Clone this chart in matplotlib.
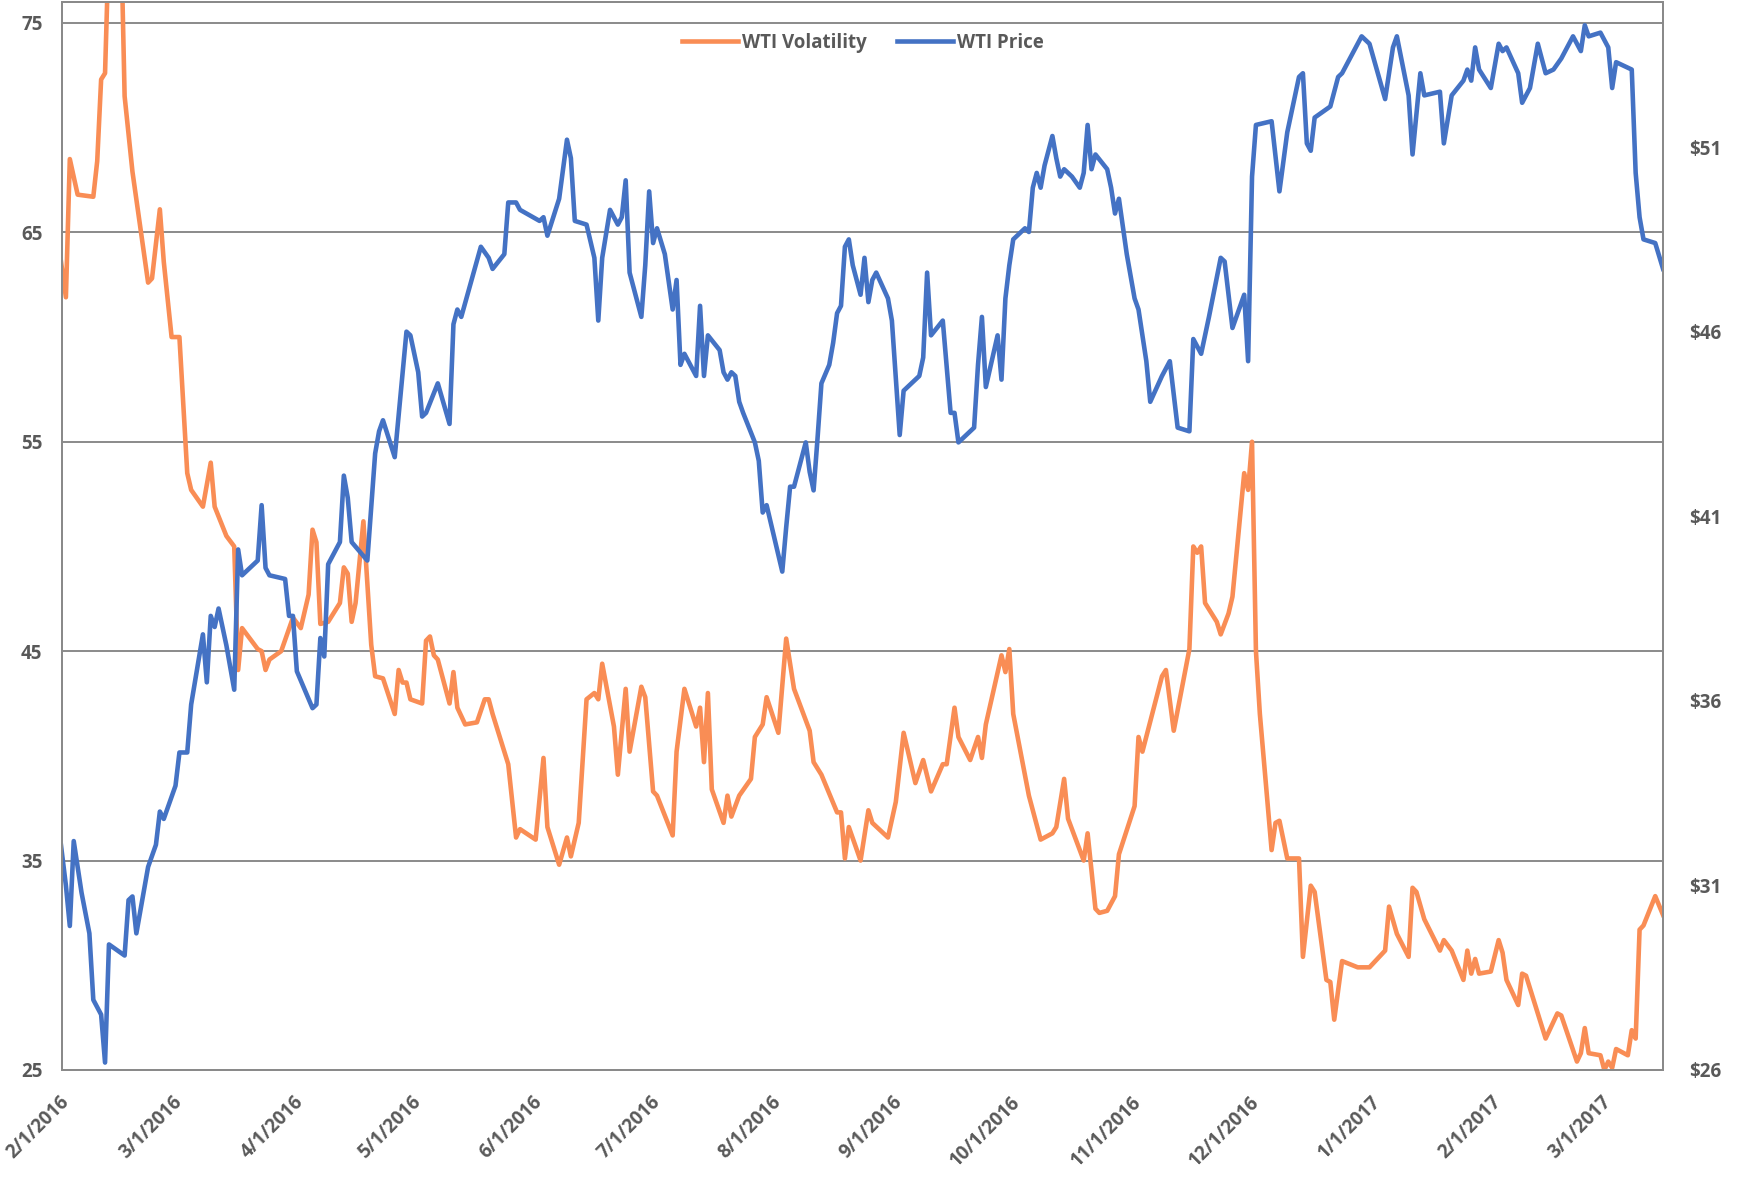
#!/usr/bin/env python3
"""WTI volatility vs WTI price, Feb 2016 - Mar 2017."""

import matplotlib
matplotlib.use('Agg')
import matplotlib.pyplot as plt
import pandas as pd

# WTI volatility (left axis).
vol_dates = [
    '2016-01-29', '2016-02-01', '2016-02-02', '2016-02-04', '2016-02-08', '2016-02-09',
    '2016-02-10', '2016-02-11', '2016-02-12', '2016-02-15', '2016-02-16', '2016-02-18',
    '2016-02-22', '2016-02-23', '2016-02-25', '2016-02-26', '2016-02-28',
    '2016-03-01', '2016-03-03', '2016-03-04', '2016-03-07', '2016-03-09', '2016-03-10',
    '2016-03-13', '2016-03-15', '2016-03-16', '2016-03-17', '2016-03-21', '2016-03-22',
    '2016-03-23', '2016-03-24', '2016-03-27', '2016-03-30',
    '2016-04-01', '2016-04-03', '2016-04-04', '2016-04-05', '2016-04-06', '2016-04-08',
    '2016-04-11', '2016-04-12', '2016-04-13', '2016-04-14', '2016-04-15', '2016-04-17',
    '2016-04-19', '2016-04-20', '2016-04-22', '2016-04-25', '2016-04-26', '2016-04-27',
    '2016-04-28', '2016-04-29',
    '2016-05-02', '2016-05-03', '2016-05-04', '2016-05-05', '2016-05-06', '2016-05-09',
    '2016-05-10', '2016-05-11', '2016-05-12', '2016-05-13', '2016-05-16', '2016-05-18',
    '2016-05-19', '2016-05-20', '2016-05-24', '2016-05-26', '2016-05-27', '2016-05-31',
    '2016-06-02', '2016-06-03', '2016-06-06', '2016-06-08', '2016-06-09', '2016-06-11',
    '2016-06-13', '2016-06-15', '2016-06-16', '2016-06-17', '2016-06-20', '2016-06-21',
    '2016-06-23', '2016-06-24', '2016-06-27', '2016-06-28', '2016-06-30',
    '2016-07-01', '2016-07-05', '2016-07-06', '2016-07-08', '2016-07-11', '2016-07-12',
    '2016-07-13', '2016-07-14', '2016-07-15', '2016-07-18', '2016-07-19', '2016-07-20',
    '2016-07-22', '2016-07-25', '2016-07-26', '2016-07-28', '2016-07-29',
    '2016-08-01', '2016-08-03', '2016-08-05', '2016-08-09', '2016-08-10', '2016-08-12',
    '2016-08-16', '2016-08-17', '2016-08-18', '2016-08-19', '2016-08-22', '2016-08-24',
    '2016-08-25', '2016-08-29', '2016-08-31',
    '2016-09-02', '2016-09-05', '2016-09-07', '2016-09-09', '2016-09-12', '2016-09-13',
    '2016-09-15', '2016-09-16', '2016-09-19', '2016-09-21', '2016-09-22', '2016-09-23',
    '2016-09-27', '2016-09-28', '2016-09-29', '2016-09-30',
    '2016-10-04', '2016-10-07', '2016-10-10', '2016-10-11', '2016-10-13', '2016-10-14',
    '2016-10-18', '2016-10-19', '2016-10-21', '2016-10-22', '2016-10-24', '2016-10-26',
    '2016-10-27', '2016-10-31',
    '2016-11-01', '2016-11-02', '2016-11-07', '2016-11-08', '2016-11-10', '2016-11-14',
    '2016-11-15', '2016-11-16', '2016-11-17', '2016-11-18', '2016-11-21', '2016-11-22',
    '2016-11-24', '2016-11-25', '2016-11-28', '2016-11-29', '2016-11-30',
    '2016-12-01', '2016-12-02', '2016-12-05', '2016-12-06', '2016-12-07', '2016-12-09',
    '2016-12-12', '2016-12-13', '2016-12-15', '2016-12-16', '2016-12-19', '2016-12-20',
    '2016-12-21', '2016-12-23', '2016-12-27', '2016-12-30',
    '2017-01-03', '2017-01-04', '2017-01-06', '2017-01-09', '2017-01-10', '2017-01-11',
    '2017-01-13', '2017-01-17', '2017-01-18', '2017-01-20', '2017-01-23', '2017-01-24',
    '2017-01-25', '2017-01-26', '2017-01-27', '2017-01-30',
    '2017-02-01', '2017-02-02', '2017-02-03', '2017-02-06', '2017-02-07', '2017-02-08',
    '2017-02-13', '2017-02-16', '2017-02-17', '2017-02-21', '2017-02-22', '2017-02-23',
    '2017-02-24', '2017-02-27', '2017-02-28',
    '2017-03-01', '2017-03-02', '2017-03-03', '2017-03-06', '2017-03-07', '2017-03-08',
    '2017-03-09', '2017-03-10', '2017-03-13', '2017-03-15',
]
vol_values = [
    66.0, 61.9, 68.5, 66.8, 66.7, 68.4, 72.3, 72.6, 79.0, 80.0, 71.5, 67.9,
    62.6, 62.8, 66.1, 63.6, 60.0,
    60.0, 53.5, 52.7, 51.9, 54.0, 51.9, 50.5, 50.0, 44.1, 46.1, 45.1, 45.0,
    44.1, 44.6, 45.0, 46.6,
    46.1, 47.7, 50.8, 50.2, 46.3, 46.4, 47.3, 49.0, 48.7, 46.4, 47.3, 51.2,
    45.3, 43.8, 43.7, 42.0, 44.1, 43.5, 43.5, 42.7,
    42.5, 45.5, 45.7, 44.8, 44.6, 42.5, 44.0, 42.3, 41.9, 41.5, 41.6, 42.7,
    42.7, 42.0, 39.6, 36.1, 36.5, 36.0,
    39.9, 36.6, 34.8, 36.1, 35.2, 36.8, 42.7, 43.0, 42.7, 44.4, 41.4, 39.1,
    43.2, 40.2, 43.3, 42.8, 38.3,
    38.1, 36.2, 40.2, 43.2, 41.4, 42.3, 39.7, 43.0, 38.4, 36.8, 38.1, 37.1,
    38.1, 38.9, 40.9, 41.5, 42.8,
    41.1, 45.6, 43.2, 41.2, 39.7, 39.1, 37.3, 37.3, 35.1, 36.6, 35.0, 37.4,
    36.8, 36.1, 37.8,
    41.1, 38.7, 39.8, 38.3, 39.6, 39.6, 42.3, 40.9, 39.8, 40.9, 39.9, 41.5,
    44.8, 44.0, 45.1, 42.0,
    38.1, 36.0, 36.3, 36.6, 38.9, 37.0, 35.0, 36.3, 32.7, 32.5, 32.6, 33.3,
    35.3, 37.6,
    40.9, 40.2, 43.8, 44.1, 41.2, 45.1, 50.0, 49.7, 50.0, 47.3, 46.4, 45.8,
    46.8, 47.6, 53.5, 52.7, 55.0,
    45.0, 42.0, 35.5, 36.8, 36.9, 35.1, 35.1, 30.4, 33.8, 33.5, 29.3, 29.2,
    27.4, 30.2, 29.9, 29.9,
    30.7, 32.8, 31.5, 30.4, 33.7, 33.5, 32.2, 30.7, 31.2, 30.7, 29.3, 30.7,
    29.6, 30.3, 29.6, 29.7,
    31.2, 30.6, 29.3, 28.1, 29.6, 29.5, 26.5, 27.7, 27.6, 25.4, 25.8, 27.0,
    25.8, 25.7, 25.0,
    25.4, 25.1, 26.0, 25.7, 26.9, 26.5, 31.7, 31.9, 33.3, 32.4,
]

# WTI price in dollars (right axis).
price_dates = [
    '2016-01-29', '2016-02-01', '2016-02-02', '2016-02-03', '2016-02-05', '2016-02-07',
    '2016-02-08', '2016-02-10', '2016-02-11', '2016-02-12', '2016-02-16', '2016-02-17',
    '2016-02-18', '2016-02-19', '2016-02-22', '2016-02-24', '2016-02-25', '2016-02-26',
    '2016-02-29',
    '2016-03-01', '2016-03-03', '2016-03-04', '2016-03-07', '2016-03-08', '2016-03-09',
    '2016-03-10', '2016-03-11', '2016-03-13', '2016-03-15', '2016-03-16', '2016-03-17',
    '2016-03-21', '2016-03-22', '2016-03-23', '2016-03-24', '2016-03-28', '2016-03-29',
    '2016-03-30', '2016-03-31',
    '2016-04-04', '2016-04-05', '2016-04-06', '2016-04-07', '2016-04-08', '2016-04-11',
    '2016-04-12', '2016-04-13', '2016-04-14', '2016-04-18', '2016-04-20', '2016-04-21',
    '2016-04-22', '2016-04-25', '2016-04-28', '2016-04-29',
    '2016-05-01', '2016-05-02', '2016-05-03', '2016-05-06', '2016-05-09', '2016-05-10',
    '2016-05-11', '2016-05-12', '2016-05-17', '2016-05-19', '2016-05-20', '2016-05-23',
    '2016-05-24', '2016-05-26', '2016-05-27',
    '2016-06-01', '2016-06-02', '2016-06-03', '2016-06-06', '2016-06-08', '2016-06-09',
    '2016-06-10', '2016-06-13', '2016-06-15', '2016-06-16', '2016-06-17', '2016-06-19',
    '2016-06-21', '2016-06-22', '2016-06-23', '2016-06-24', '2016-06-27', '2016-06-28',
    '2016-06-29', '2016-06-30',
    '2016-07-01', '2016-07-03', '2016-07-05', '2016-07-06', '2016-07-07', '2016-07-08',
    '2016-07-11', '2016-07-12', '2016-07-13', '2016-07-14', '2016-07-17', '2016-07-18',
    '2016-07-19', '2016-07-20', '2016-07-21', '2016-07-22', '2016-07-23', '2016-07-26',
    '2016-07-27', '2016-07-28', '2016-07-29',
    '2016-08-02', '2016-08-03', '2016-08-04', '2016-08-05', '2016-08-08', '2016-08-09',
    '2016-08-10', '2016-08-11', '2016-08-12', '2016-08-14', '2016-08-15', '2016-08-16',
    '2016-08-17', '2016-08-18', '2016-08-19', '2016-08-20', '2016-08-22', '2016-08-23',
    '2016-08-24', '2016-08-25', '2016-08-26', '2016-08-29', '2016-08-30',
    '2016-09-01', '2016-09-02', '2016-09-06', '2016-09-07', '2016-09-08', '2016-09-09',
    '2016-09-12', '2016-09-14', '2016-09-15', '2016-09-16', '2016-09-20', '2016-09-21',
    '2016-09-22', '2016-09-23', '2016-09-26', '2016-09-27', '2016-09-28', '2016-09-29',
    '2016-09-30',
    '2016-10-03', '2016-10-04', '2016-10-05', '2016-10-06', '2016-10-07', '2016-10-08',
    '2016-10-10', '2016-10-11', '2016-10-12', '2016-10-13', '2016-10-15', '2016-10-17',
    '2016-10-18', '2016-10-19', '2016-10-20', '2016-10-21', '2016-10-24', '2016-10-25',
    '2016-10-26', '2016-10-27', '2016-10-29', '2016-10-31',
    '2016-11-01', '2016-11-03', '2016-11-04', '2016-11-07', '2016-11-09', '2016-11-11',
    '2016-11-14', '2016-11-15', '2016-11-17', '2016-11-19', '2016-11-22', '2016-11-23',
    '2016-11-25', '2016-11-26', '2016-11-28', '2016-11-29', '2016-11-30',
    '2016-12-01', '2016-12-05', '2016-12-07', '2016-12-09', '2016-12-12', '2016-12-13',
    '2016-12-14', '2016-12-15', '2016-12-16', '2016-12-20', '2016-12-21', '2016-12-22',
    '2016-12-23', '2016-12-28', '2016-12-30',
    '2017-01-03', '2017-01-05', '2017-01-06', '2017-01-09', '2017-01-10', '2017-01-12',
    '2017-01-13', '2017-01-17', '2017-01-18', '2017-01-20', '2017-01-23', '2017-01-24',
    '2017-01-25', '2017-01-26', '2017-01-27', '2017-01-30',
    '2017-02-01', '2017-02-02', '2017-02-03', '2017-02-06', '2017-02-07', '2017-02-09',
    '2017-02-11', '2017-02-13', '2017-02-15', '2017-02-17', '2017-02-20', '2017-02-22',
    '2017-02-23', '2017-02-24', '2017-02-27', '2017-02-28',
    '2017-03-01', '2017-03-02', '2017-03-03', '2017-03-07', '2017-03-08', '2017-03-09',
    '2017-03-10', '2017-03-13', '2017-03-15',
]
price_values = [
    33.6, 31.0, 29.9, 32.2, 30.8, 29.7, 27.9, 27.5, 26.2, 29.4, 29.1, 30.6,
    30.7, 29.7, 31.5, 32.1, 33.0, 32.8, 33.7,
    34.6, 34.6, 35.9, 37.8, 36.5, 38.3, 38.0, 38.5, 37.5, 36.3, 40.1, 39.4,
    39.8, 41.3, 39.6, 39.4, 39.3, 38.3, 38.3, 36.8,
    35.8, 35.9, 37.7, 37.2, 39.7, 40.3, 42.1, 41.5, 40.3, 39.8, 42.7, 43.3,
    43.6, 42.6, 46.0, 45.9,
    44.9, 43.7, 43.8, 44.6, 43.5, 46.2, 46.6, 46.4, 48.3, 48.0, 47.7, 48.1,
    49.5, 49.5, 49.3,
    49.0, 49.1, 48.6, 49.6, 51.2, 50.7, 49.0, 48.9, 48.0, 46.3, 48.0, 49.3,
    48.9, 49.1, 50.1, 47.6, 46.4, 47.8, 49.8, 48.4,
    48.8, 48.1, 46.6, 47.4, 45.1, 45.4, 44.8, 46.7, 44.8, 45.9, 45.5, 44.9,
    44.7, 44.9, 44.8, 44.1, 43.8, 43.0, 42.5, 41.1, 41.3,
    39.5, 40.7, 41.8, 41.8, 43.0, 42.2, 41.7, 43.1, 44.6, 45.1, 45.7, 46.5,
    46.7, 48.3, 48.5, 47.8, 47.0, 48.0, 46.8, 47.4, 47.6, 46.9, 46.3,
    43.2, 44.4, 44.8, 45.3, 47.6, 45.9, 46.3, 43.8, 43.8, 43.0, 43.4, 45.1,
    46.4, 44.5, 45.9, 44.7, 46.9, 47.8, 48.5,
    48.8, 48.7, 49.9, 50.3, 49.9, 50.5, 51.3, 50.7, 50.2, 50.4, 50.2, 49.9,
    50.3, 51.6, 50.4, 50.8, 50.4, 49.9, 49.2, 49.6, 48.1, 46.9,
    46.6, 45.2, 44.1, 44.8, 45.2, 43.4, 43.3, 45.8, 45.4, 46.4, 48.0, 47.9,
    46.1, 46.4, 47.0, 45.2, 50.2,
    51.6, 51.7, 49.8, 51.4, 52.9, 53.0, 51.1, 50.9, 51.8, 52.1, 52.5, 52.9,
    53.0, 54.0, 53.8,
    52.3, 53.7, 54.0, 52.4, 50.8, 53.0, 52.4, 52.5, 51.1, 52.4, 52.8, 53.1,
    52.8, 53.7, 53.1, 52.6,
    53.8, 53.6, 53.7, 53.0, 52.2, 52.6, 53.8, 53.0, 53.1, 53.4, 54.0, 53.6,
    54.3, 54.0, 54.1, 53.9,
    53.7, 52.6, 53.3, 53.1, 50.3, 49.1, 48.5, 48.4, 47.7,
]

vol_ticks = [25, 35, 45, 55, 65, 75]
price_ticks = [26, 31, 36, 41, 46, 51]
month_ticks = pd.date_range('2016-02-01', '2017-03-01', freq='MS')

plt.rcParams['font.family'] = ['Open Sans', 'DejaVu Sans']
text_color = '#595959'
frame_color = '#8a8a8a'

fig = plt.figure(figsize=(17.46, 11.82), dpi=100)
ax = fig.add_axes([0.0355, 0.0948, 0.917, 0.9035])
ax2 = ax.twinx()

vol_line, = ax.plot(pd.to_datetime(vol_dates), vol_values,
                    color='#F98D55', lw=3.3, label='WTI Volatility')
price_line, = ax2.plot(pd.to_datetime(price_dates), price_values,
                       color='#4472C4', lw=3.3, label='WTI Price')

ax.set_xlim(pd.Timestamp('2016-01-31'), pd.Timestamp('2017-03-15'))
ax.set_ylim(25, 76)
ax2.set_ylim(26, 54.93)

ax.set_yticks(vol_ticks)
ax.set_yticklabels([str(v) for v in vol_ticks])
ax2.set_yticks(price_ticks)
ax2.set_yticklabels([f'${v}' for v in price_ticks])

ax.set_xticks(month_ticks)
ax.set_xticklabels([f'{d.month}/{d.day}/{d.year}' for d in month_ticks],
                   rotation=45, ha='right', va='center', rotation_mode='anchor')

ax.yaxis.grid(True, color=frame_color, lw=1.4)
ax.set_axisbelow(True)

ax.tick_params(axis='x', length=0, pad=21, labelsize=13.5, labelcolor=text_color)
ax.tick_params(axis='y', length=0, pad=14, labelsize=13.5, labelcolor=text_color)
ax2.tick_params(axis='y', length=0, pad=19, labelsize=13.5, labelcolor=text_color)
for lab in ax.get_xticklabels() + ax.get_yticklabels() + ax2.get_yticklabels():
    lab.set_fontweight('bold')

for a in (ax, ax2):
    for spine in a.spines.values():
        spine.set_color(frame_color)
        spine.set_linewidth(1.4)

leg = ax2.legend(handles=[vol_line, price_line], loc='center',
                 bbox_to_anchor=(0.5, 0.962), ncol=2, frameon=False,
                 fontsize=13.5, handlelength=3.0, handletextpad=0.2,
                 columnspacing=1.6)
for t in leg.get_texts():
    t.set_color(text_color)
    t.set_fontweight('bold')

fig.savefig('out.png', dpi=100)
